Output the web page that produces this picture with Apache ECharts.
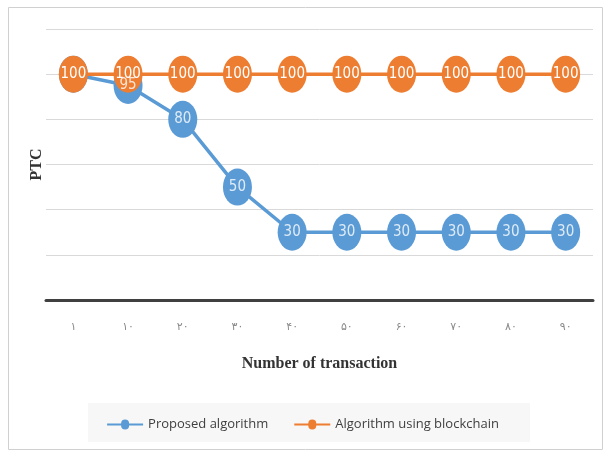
<!DOCTYPE html>
<html><head><meta charset="utf-8">
<script src="https://cdn.jsdelivr.net/npm/echarts@6/dist/echarts.min.js"></script>
<style>html,body{margin:0;padding:0;background:#fff}#c{width:606px;height:456px}</style>
</head><body><div id="c"></div>
<script>
var categories = ['۱','۱۰','۲۰','۳۰','۴۰','۵۰','۶۰','۷۰','۸۰','۹۰'];
var proposed = [100, 95, 80, 50, 30, 30, 30, 30, 30, 30];
var blockchain = [100, 100, 100, 100, 100, 100, 100, 100, 100, 100];
var seriesNames = ['Proposed algorithm', 'Algorithm using blockchain'];
var yAxisName = 'PTC';
var xAxisName = 'Number of transaction';

var chart = echarts.init(document.getElementById('c'));
var labelFont = 'DejaVu Sans Condensed, Liberation Sans Narrow, sans-serif';
var labelStyle = {show: true, position: 'inside', color: '#fff', fontSize: 15, fontFamily: labelFont};
var sym = [29, 37];
chart.setOption({
  animation: false,
  graphic: [
    {type: 'rect', left: 6, top: 5, shape: {width: 594, height: 442}, style: {fill: 'none', stroke: '#d0d0d0', lineWidth: 1}, z: -10},
    {type: 'rect', left: 88, top: 403, shape: {width: 442, height: 39}, style: {fill: '#f7f7f7'}, z: -5}
  ],
  grid: {left: 46, right: 13, top: 29, bottom: 156},
  legend: {
    bottom: 20, left: 'center', itemGap: 26, itemWidth: 36, itemHeight: 10,
    textStyle: {fontSize: 13, color: '#404040', fontFamily: 'Open Sans, sans-serif'},
    data: seriesNames.map(function(n){return {name: n, icon: 'path://M0,4 L14,4 A4,4 0 1,1 22,4 L36,4 L36,6 L22,6 A4,4 0 1,1 14,6 L0,6 Z'};})
  },
  xAxis: {
    type: 'category', data: categories, boundaryGap: true,
    axisLine: {lineStyle: {color: '#404040', width: 3}},
    axisTick: {show: false},
    axisLabel: {color: '#8a8a8a', fontSize: 11, margin: 22, fontFamily: 'DejaVu Sans'},
    name: xAxisName, nameLocation: 'middle', nameGap: 56,
    nameTextStyle: {fontFamily: 'Liberation Serif, serif', fontWeight: 'bold', fontSize: 16, color: '#333'}
  },
  yAxis: {
    type: 'value', min: 0, max: 120, interval: 20,
    axisLabel: {show: false}, axisLine: {show: false}, axisTick: {show: false},
    splitLine: {lineStyle: {color: '#d9d9d9', width: 1}},
    name: yAxisName, nameLocation: 'middle', nameGap: 1, nameRotate: 90,
    nameTextStyle: {fontFamily: 'Liberation Serif, serif', fontWeight: 'bold', fontSize: 16, color: '#333'}
  },
  series: [
    {name: seriesNames[0], type: 'line', data: proposed, symbol: 'circle', symbolSize: sym,
     itemStyle: {color: '#5b9bd5'}, lineStyle: {width: 3.5, color: '#5b9bd5'}, label: {show: false}, z: 2},
    {name: seriesNames[1], type: 'line', data: blockchain, symbol: 'circle', symbolSize: sym,
     itemStyle: {color: '#ed7d31'}, lineStyle: {width: 3.5, color: '#ed7d31'}, label: labelStyle, z: 3},
    {name: 'proposedLabels', type: 'scatter', data: proposed, symbolSize: 1,
     itemStyle: {color: 'rgba(0,0,0,0)'}, z: 5, silent: true,
     label: Object.assign({}, labelStyle, {formatter: function (p) {
       return proposed[p.dataIndex] === blockchain[p.dataIndex] ? '' : String(p.value);
     }})}
  ]
});
</script></body></html>
